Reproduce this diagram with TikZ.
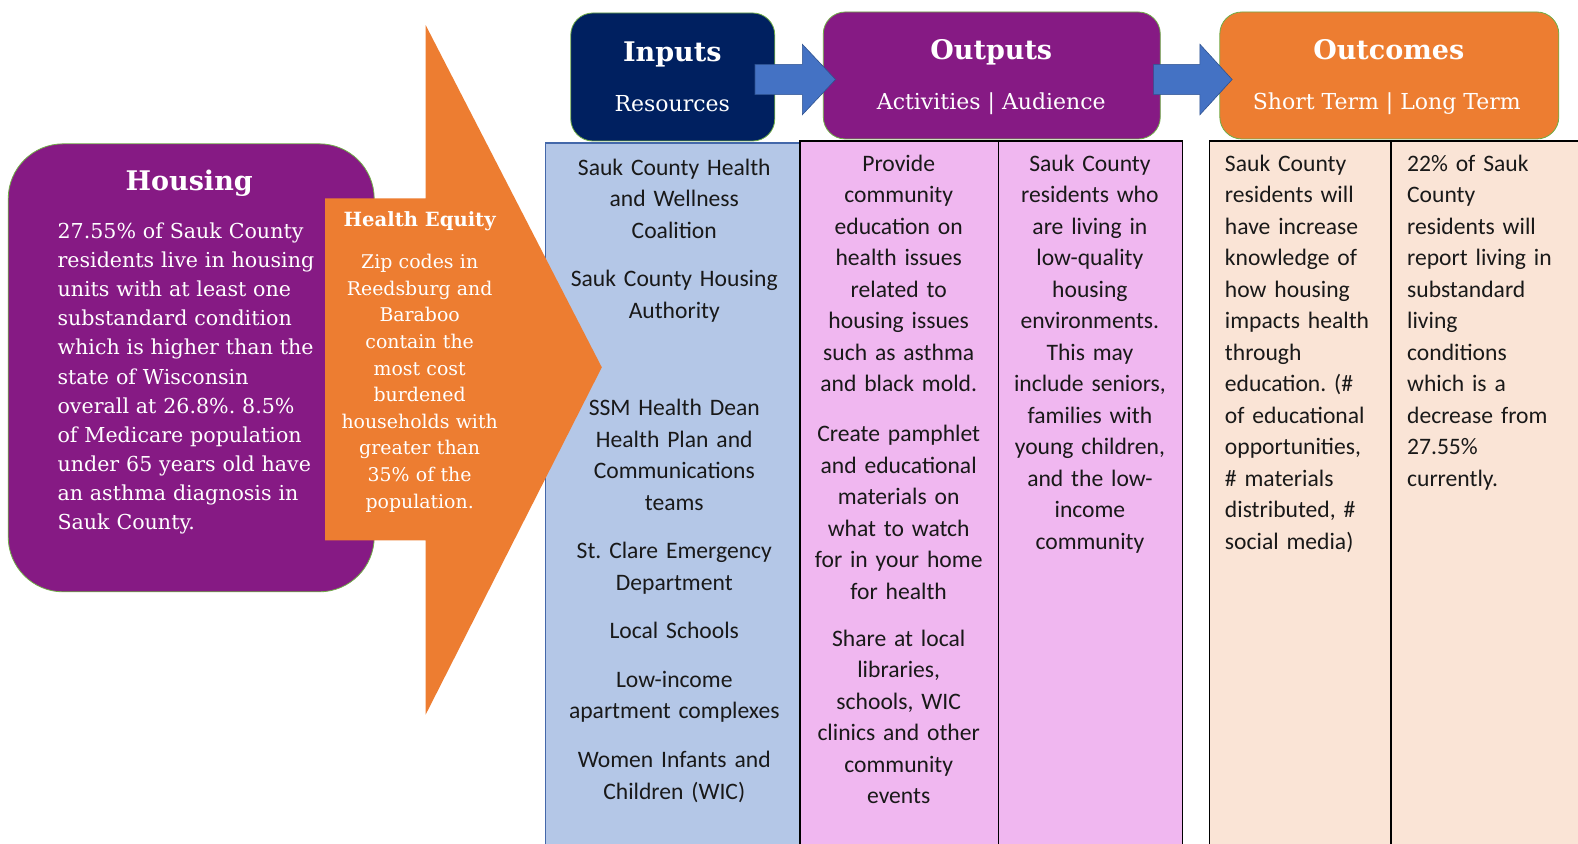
\documentclass[tikz,border=0pt]{standalone}
\usepackage{fontspec}
\setmainfont{DejaVu Serif}
\newfontfamily\calib{Carlito}
\frenchspacing
\definecolor{hpurple}{RGB}{134,26,132}
\definecolor{hnavy}{RGB}{0,32,96}
\definecolor{horange}{RGB}{237,125,49}
\definecolor{hblue}{RGB}{68,114,196}
\definecolor{hblueedge}{RGB}{47,82,143}
\definecolor{incol}{RGB}{180,199,231}
\definecolor{inedge}{RGB}{68,104,170}
\definecolor{pinkcol}{RGB}{240,183,240}
\definecolor{peachcol}{RGB}{250,228,214}
\definecolor{boxedge}{RGB}{112,173,71}
\definecolor{txt}{RGB}{25,25,25}
\tikzset{
  hdrbox/.style={draw=boxedge, line width=0.8pt, rounded corners=22pt, inner sep=0pt},
  hdrtitle/.style={text=white, font=\bfseries\fontsize{27}{32}\selectfont, anchor=base, inner sep=0pt},
  hdrsub/.style={text=white, font=\fontsize{22}{26}\selectfont, anchor=base, inner sep=0pt},
  cell/.style={font=\calib\fontsize{23.6}{31.5}\selectfont, text=txt, anchor=base, inner sep=0pt, align=center, text width=250pt},
  cellleft/.style={font=\calib\fontsize{23.6}{31.5}\selectfont, text=txt, anchor=base west, inner sep=0pt, align=left, text width=180pt},
  blockarrow/.style={fill=hblue, draw=hblueedge, line width=0.6pt},
  colbox/.style={line width=1.5pt}
}
\begin{document}
\begin{tikzpicture}[x=1.0064pt,y=-1.0064pt]
\useasboundingbox (0,0) rectangle (1568,838.65);
\clip (0,0) rectangle (1568,838.65);
\fill[white] (0,0) rectangle (1568,838.65);

% Housing box
\node[draw=boxedge, line width=0.8pt, fill=hpurple, rounded corners=55pt, minimum width=366pt, minimum height=448pt, inner sep=0pt] (housing) at (190,365.5) {};
\node[text=white, font=\bfseries\fontsize{27}{32}\selectfont, anchor=base, inner sep=0pt] (housingtitle) at (188,189) {Housing};
\node[text=white, font=\fontsize{20.6}{29.1}\selectfont, anchor=base west, inner sep=0pt, align=left, text width=300pt] (housingbody) at (57,237) {27.55\% of Sauk County\\residents live in housing\\units with at least one\\substandard condition\\which is higher than the\\state of Wisconsin\\overall at 26.8\%. 8.5\%\\of Medicare population\\under 65 years old have\\an asthma diagnosis in\\Sauk County.};

% Table columns
\filldraw[fill=incol, draw=inedge, line width=1.2pt] (542,142) rectangle (795,860);
\filldraw[fill=pinkcol, draw=black, colbox] (795,140) rectangle (992,860);
\filldraw[fill=pinkcol, draw=black, colbox] (992,140) rectangle (1175,860);
\filldraw[fill=peachcol, draw=black, colbox] (1202,140) rectangle (1382,860);
\filldraw[fill=peachcol, draw=black, colbox] (1382,140) rectangle (1590,860);
\draw[black, line width=2.2pt] (1382,140) -- (1382,860);

% Health equity arrow
\fill[horange] (323,197) -- (423,197) -- (423,25) -- (598,365) -- (423,710) -- (423,537) -- (323,537) -- cycle;
\node[text=white, font=\bfseries\fontsize{19.6}{24}\selectfont, anchor=base, inner sep=0pt] (eqtitle) at (417,225) {Health Equity};
\node[text=white, font=\fontsize{18.9}{26.6}\selectfont, anchor=base, inner sep=0pt, align=center, text width=200pt] (eqbody) at (417,267) {Zip codes in\\Reedsburg and\\Baraboo\\contain the\\most cost\\burdened\\households with\\greater than\\35\% of the\\population.};

% Header boxes
\node[hdrbox, fill=hnavy, minimum width=204pt, minimum height=128pt] (inputs) at (668.5,76.5) {};
\node[hdrbox, fill=hpurple, minimum width=337pt, minimum height=127pt] (outputs) at (985.5,75) {};
\node[hdrbox, fill=horange, minimum width=339pt, minimum height=127pt] (outcomes) at (1380.5,75) {};
\node[hdrtitle] (inputstitle) at (668,61) {Inputs};
\node[hdrsub] (inputssub) at (668,111) {Resources};
\node[hdrtitle] (outputstitle) at (985,59) {Outputs};
\node[hdrsub] (outputssub) at (985,109) {Activities | Audience};
\node[hdrtitle] (outcomestitle) at (1380,59) {Outcomes};
\node[hdrsub] (outcomessub) at (1378,109) {Short Term | Long Term};

% Block arrows between header boxes
\begin{scope}[shift={(inputs.east)}]
\filldraw[blockarrow] (-20,-12.5) -- (27,-12.5) -- (27,-32.5) -- (60,2.5) -- (27,37.5) -- (27,17.5) -- (-20,17.5) -- cycle;
\end{scope}
\begin{scope}[shift={(outputs.east)}]
\filldraw[blockarrow] (-7,-11) -- (39,-11) -- (39,-31) -- (71,4) -- (39,39) -- (39,19) -- (-7,19) -- cycle;
\end{scope}

% Inputs column text
\node[cell] (in1) at (670,174) {Sauk County Health\\and Wellness\\Coalition};
\node[cell] (in2) at (670,285) {Sauk County Housing\\Authority};
\node[cell] (in3) at (670,413) {SSM Health Dean\\Health Plan and\\Communications\\teams};
\node[cell] (in4) at (670,555) {St. Clare Emergency\\Department};
\node[cell] (in5) at (670,634) {Local Schools};
\node[cell] (in6) at (670,683) {Low-income\\apartment complexes};
\node[cell] (in7) at (670,763) {Women Infants and\\Children (WIC)};

% Activities
\node[cell] (act1) at (893,170) {Provide\\community\\education on\\health issues\\related to\\housing issues\\such as asthma\\and black mold.};
\node[cell] (act2) at (893,439) {Create pamphlet\\and educational\\materials on\\what to watch\\for in your home\\for health};
\node[cell] (act3) at (893,642) {Share at local\\libraries,\\schools, WIC\\clinics and other\\community\\events};

% Audience
\node[cell] (aud) at (1083,170) {Sauk County\\residents who\\are living in\\low-quality\\housing\\environments.\\This may\\include seniors,\\families with\\young children,\\and the low-\\income\\community};

% Outcomes
\node[cellleft] (short) at (1217,170) {Sauk County\\residents will\\have increase\\knowledge of\\how housing\\impacts health\\through\\education. (\#\\of educational\\opportunities,\\\# materials\\distributed, \#\\social media)};
\node[cellleft] (long) at (1398,170) {22\% of Sauk\\County\\residents will\\report living in\\substandard\\living\\conditions\\which is a\\decrease from\\27.55\%\\currently.};
\end{tikzpicture}
\end{document}
